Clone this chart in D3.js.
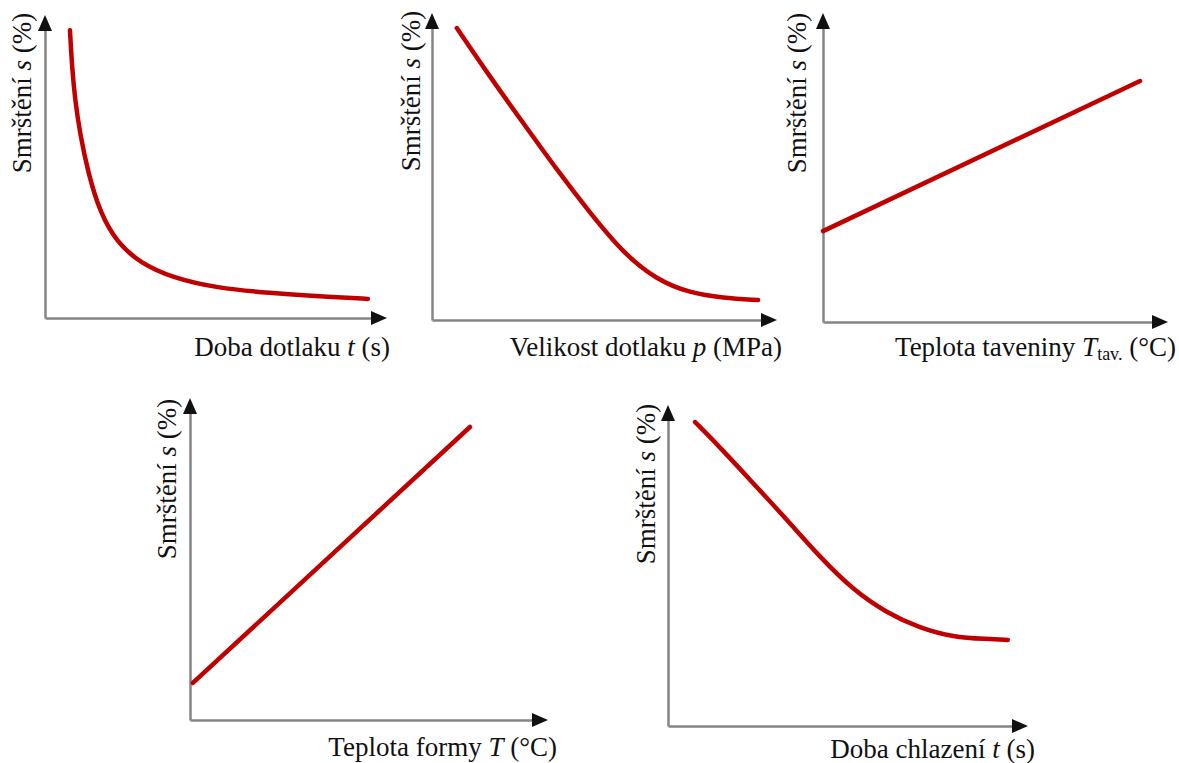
<!DOCTYPE html>
<html>
<head>
<meta charset="utf-8">
<script src="https://cdn.jsdelivr.net/npm/d3@7"></script>
<style>
  body { margin: 0; background: #fff; }
  svg text { font-family: "Liberation Serif", "Times New Roman", "DejaVu Serif", serif; }
</style>
</head>
<body>
<div id="chart"></div>
<script>
// values, in % of each axis length (0 = origin, 100 = arrow tip)
const holdTimeX = [7.3, 7.9, 8.8, 10.2, 12.6, 16.1, 21.1, 27.8, 37.4, 50.3, 64.9, 84.2, 94.4];
const holdTimeY = [95.0, 82.8, 71.9, 61.1, 47.9, 34.7, 24.8, 18.2, 13.2, 9.9, 8.3, 6.9, 6.3];

const holdPressX = [7.2, 16.8, 26.4, 36.2, 45.8, 55.4, 65.2, 74.8, 84.3, 94.5];
const holdPressY = [95.1, 79.2, 64.2, 48.9, 34.9, 21.8, 13.0, 8.8, 7.2, 6.5];

const meltTempX = [0, 91.9];
const meltTempY = [29.4, 78.0];

const mouldTempX = [0.8, 78.2];
const mouldTempY = [11.5, 91.0];

const coolTimeX = [7.5, 14.4, 23.6, 33.1, 42.2, 51.4, 60.8, 70.0, 79.2, 88.6, 94.4];
const coolTimeY = [94.7, 86.9, 75.7, 64.2, 52.6, 42.4, 35.2, 30.5, 27.7, 27.1, 26.8];

const yLabel = ["Smrštění ", "s", " (%)"];

let panels = [
    {xs: holdTimeX, ys: holdTimeY, ox: 45, oy: 318, xt: 387, yt: 15, ly: 31, lcy: 93, lx: 390, lb: 356,
     xLabel: [["Doba dotlaku ", 0], ["t", 1], [" (s)", 0]]},
    {xs: holdPressX, ys: holdPressY, ox: 432, oy: 320, xt: 777, yt: 13, ly: 420, lcy: 91, lx: 782, lb: 356,
     xLabel: [["Velikost dotlaku ", 0], ["p", 1], [" (MPa)", 0]]},
    {xs: meltTempX, ys: meltTempY, ox: 823, oy: 322, xt: 1168, yt: 13, ly: 806, lcy: 93, lx: 1176, lb: 356,
     xLabel: [["Teplota taveniny ", 0], ["T", 1], ["tav.", 2], [" (°C)", 0]]},
    {xs: mouldTempX, ys: mouldTempY, ox: 190, oy: 720, xt: 548, yt: 398, ly: 176, lcy: 479, lx: 557, lb: 756,
     xLabel: [["Teplota formy ", 0], ["T", 1], [" (°C)", 0]]},
    {xs: coolTimeX, ys: coolTimeY, ox: 668, oy: 726, xt: 1028, yt: 405, ly: 655, lcy: 484, lx: 1035, lb: 758,
     xLabel: [["Doba chlazení ", 0], ["t", 1], [" (s)", 0]]}
];

let svg = d3.select("#chart").append("svg").attr("width", 1179).attr("height", 763);

panels.forEach(p => {
    let x = d3.scaleLinear().domain([0, 100]).range([p.ox, p.xt]);
    let y = d3.scaleLinear().domain([0, 100]).range([p.oy, p.yt]);
    let g = svg.append("g");

    // axes without ticks, only the gray domain line
    g.append("g").attr("transform", `translate(0,${p.oy})`)
        .call(d3.axisBottom(x.copy().range([p.ox, p.xt - 8])).ticks(0).tickSizeOuter(0));
    g.append("g").attr("transform", `translate(${p.ox},0)`)
        .call(d3.axisLeft(y.copy().range([p.oy, p.yt + 8])).ticks(0).tickSizeOuter(0));
    g.selectAll(".domain").attr("stroke", "#858585").attr("stroke-width", 2.5);

    // arrow heads
    g.append("path")
        .attr("d", `M${x(100)},${p.oy} L${x(100) - 16},${p.oy - 7} L${x(100) - 16},${p.oy + 7} Z`)
        .attr("fill", "#111");
    g.append("path")
        .attr("d", `M${p.ox},${y(100)} L${p.ox - 7},${y(100) + 16} L${p.ox + 7},${y(100) + 16} Z`)
        .attr("fill", "#111");

    // red curve
    let pts = p.xs.map((d, i) => [d, p.ys[i]]);
    let line = d3.line().x(d => x(d[0])).y(d => y(d[1])).curve(d3.curveBasis);
    g.append("path").datum(pts)
        .attr("d", line)
        .attr("fill", "none")
        .attr("stroke", "#c00000")
        .attr("stroke-width", 4.5)
        .attr("stroke-linecap", "round");

    // y label
    let yt = g.append("text")
        .attr("transform", `translate(${p.ly},${p.lcy}) rotate(-90)`)
        .attr("text-anchor", "middle")
        .attr("fill", "#111")
        .style("font-size", "27px");
    yLabel.forEach((s, i) => {
        yt.append("tspan").text(s).style("font-style", i == 1 ? "italic" : "normal");
    });

    // x label
    let xt = g.append("text")
        .attr("x", p.lx).attr("y", p.lb)
        .attr("text-anchor", "end")
        .attr("fill", "#111")
        .style("font-size", "27px");
    p.xLabel.forEach(([s, k], i) => {
        let ts = xt.append("tspan").text(s);
        if (k == 1) ts.style("font-style", "italic");
        if (k == 2) ts.style("font-size", "18px").attr("dy", 4);
        if (k == 0 && i > 0 && p.xLabel[i - 1][1] == 2) ts.attr("dy", -4);
    });
});
</script>
</body>
</html>
